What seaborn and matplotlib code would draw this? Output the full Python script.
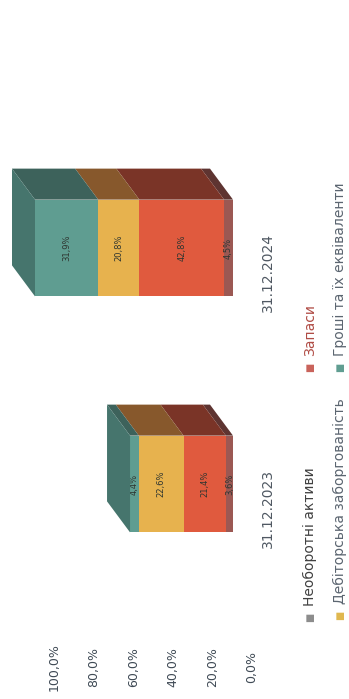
import numpy as np
import pandas as pd
import matplotlib
matplotlib.use("Agg")
import matplotlib.pyplot as plt
import seaborn as sns
from matplotlib.patches import Polygon
from matplotlib.transforms import ScaledTranslation, IdentityTransform, blended_transform_factory

# ---------------- data ----------------
categories = ["31.12.2023", "31.12.2024"]
series_names = ["Необоротні активи", "Запаси", "Дебіторська заборгованість", "Гроші та їх еквіваленти"]
neoborotni = [3.6, 4.5]
zapasy = [21.4, 42.8]
debitorska = [22.6, 20.8]
groshi = [4.4, 31.9]
value_ticks = [0, 20, 40, 60, 80, 100]

# ---------------- style ----------------
front_colors = ["#9b5853", "#e05a3e", "#e7b24e", "#5f9d91"]
side_colors = ["#5e3431", "#7a3427", "#87582c", "#3d625b"]
top_color = "#46756d"
legend_marker_colors = ["#8c8c8c", "#c9625a", "#e0b84e", "#5f9d91"]
legend_text_colors = ["#404040", "#b04c45", "#5b6570", "#5b6570"]

sns.set_theme(style="white")
plt.rcParams['font.family'] = ['DejaVu Sans']

W, H = 349, 699
DPI = 100
fig = plt.figure(figsize=(W / DPI, H / DPI), dpi=DPI)
fig.patch.set_facecolor("white")
ax = fig.add_axes([35 / W, (H - 602) / H, 198 / W, 472 / H])
ax.set_facecolor("none")

order = categories[::-1]          # 2024 on top, 2023 below (rotated chart)
bar_w = 0.41
stack = np.array([neoborotni, zapasy, debitorska, groshi], dtype=float)
cum = np.cumsum(stack, axis=0)

# stacked bars: draw cumulative totals from largest to smallest
for i in reversed(range(len(series_names))):
    d = pd.DataFrame({"cat": categories, "val": cum[i]})
    sns.barplot(data=d, x="val", y="cat", order=order, orient="h",
                color=front_colors[i], saturation=1, width=bar_w,
                errorbar=None, linewidth=0, edgecolor="none", ax=ax)

ax.set_xlim(100, 0)
ax.set_ylim(1.5, -0.5)
for s in ax.spines.values():
    s.set_visible(False)
ax.set_xticks([])
ax.set_yticks([])
ax.set_xlabel("")
ax.set_ylabel("")

# ---------------- 3D depth faces ----------------
depth_dx, depth_dy = -23, 31   # pixels (display coords, y up)
for j, cat in enumerate(categories):
    ypos = order.index(cat)
    for i in range(len(series_names)):
        lo = cum[i - 1][j] if i > 0 else 0.0
        hi = cum[i][j]
        (xa, y_top), = ax.transData.transform([(hi, ypos - bar_w / 2)])
        (xb, y_bot), = ax.transData.transform([(lo, ypos + bar_w / 2)])
        side = Polygon([(xa, y_top), (xb, y_top), (xb + depth_dx, y_top + depth_dy),
                        (xa + depth_dx, y_top + depth_dy)], closed=True,
                       facecolor=side_colors[i], edgecolor="none",
                       transform=IdentityTransform())
        fig.add_artist(side)
        if i == len(series_names) - 1:
            top = Polygon([(xa, y_bot), (xa, y_top), (xa + depth_dx, y_top + depth_dy),
                           (xa + depth_dx, y_bot + depth_dy)], closed=True,
                          facecolor=top_color, edgecolor="none",
                          transform=IdentityTransform())
            fig.add_artist(top)

# ---------------- value labels ----------------
def pct(v):
    return f"{v:.1f}%".replace(".", ",")

for j, cat in enumerate(categories):
    ypos = order.index(cat)
    for i in range(len(series_names)):
        lo = cum[i - 1][j] if i > 0 else 0.0
        v = stack[i][j]
        ax.text(lo + v / 2, ypos, pct(v), rotation=90, ha="center", va="center",
                fontsize=6, color="#2e3530")

# ---------------- axis labels ----------------
tick_tr = blended_transform_factory(ax.transData, ax.transAxes) + \
    ScaledTranslation(19 / DPI, -65 / DPI, fig.dpi_scale_trans)
for t in value_ticks:
    ax.text(t, 0, pct(t), transform=tick_tr, rotation=90, ha="center", va="center",
            fontsize=9, color="#3f4a55", clip_on=False)

cat_tr = blended_transform_factory(ax.transAxes, ax.transData) + \
    ScaledTranslation(35 / DPI, -25 / DPI, fig.dpi_scale_trans)
for cat in categories:
    ax.text(1.0, order.index(cat), cat, transform=cat_tr, rotation=90,
            ha="center", va="center", fontsize=10, color="#4f5862", clip_on=False)

# ---------------- legend ----------------
legend_pos = [(310, 617), (310, 367), (340, 615), (340, 367)]
for i, name in enumerate(series_names):
    px, py = legend_pos[i]
    fig.text(px / W, 1 - py / H, "■", rotation=90, ha="center", va="center",
             fontsize=7, color=legend_marker_colors[i])
    fig.text(px / W, 1 - (py - 11) / H, name, rotation=90, ha="center", va="bottom",
             fontsize=10, color=legend_text_colors[i])

fig.savefig("out.png", dpi=DPI, facecolor="white")
